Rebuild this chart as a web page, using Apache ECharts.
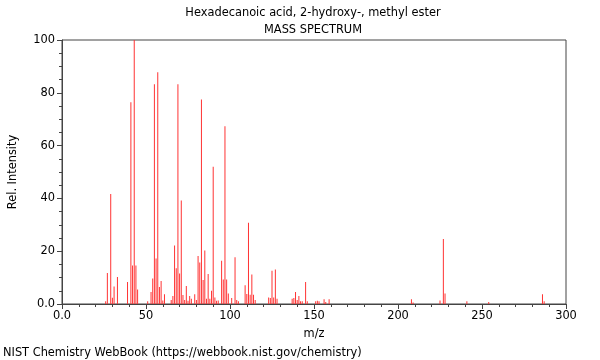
<!DOCTYPE html>
<html><head><meta charset="utf-8">
<script src="https://cdn.jsdelivr.net/npm/echarts@6/dist/echarts.min.js"></script>
<style>html,body{margin:0;padding:0;background:#fff}#c{width:600px;height:360px}</style>
</head><body><div id="c"></div>
<script>
const titleLines = ["Hexadecanoic acid, 2-hydroxy-, methyl ester", "MASS SPECTRUM"];
const footer = "NIST Chemistry WebBook (https://webbook.nist.gov/chemistry)";
const xName = "m/z";
const yName = "Rel. Intensity";
const mz = [26,27,29,30,31,33,39,41,42,43,44,45,51,53,54,55,56,57,58,59,60,61,
  65,66,67,68,69,70,71,72,73,74,75,76,77,79,80,81,82,83,84,85,86,87,88,89,90,91,92,93,
  95,96,97,98,99,101,103,104,105,109,110,111,112,113,114,115,123,124,125,126,127,128,
  137,138,139,140,141,142,143,145,146,151,152,153,156,157,159,208,209,225,227,228,241,254,286,287];
const intensity = [1,11.7,41.7,2.4,6.6,10.2,8.3,76.4,14.6,100,14.6,5.5,1,4.5,9.7,83.2,17.2,87.8,6.4,8.7,1.3,3.7,
  1.5,3,22.2,13.5,83.2,11.6,39.2,3.4,1.5,6.8,1.2,3,2,3.7,1.5,18.2,15.7,77.5,9.1,20.3,2,11.4,2,5,52,2.5,1.2,1.3,
  16.4,9.3,67.3,9.3,4,2.3,17.7,1.5,1,7.1,3.8,30.8,3.5,11.2,3.5,1.5,2.5,2.3,12.6,2.5,13.1,2,
  2,2.3,4.5,1.5,3,1,1,8.3,1,1,1.2,1,1.8,0.8,1.8,1.8,0.6,1.3,24.6,4,1,0.8,3.7,1];

const data = mz.map((m, i) => [m, intensity[i]]);
const fmt = v => v === 0 ? '0.0' : String(v);
const font = 'DejaVu Sans';
const fs = 11.4;
const chart = echarts.init(document.getElementById('c'), null, {renderer: 'canvas'});
chart.setOption({
  animation: false,
  backgroundColor: '#fff',
  textStyle: {fontFamily: font},
  title: [
    {text: titleLines[0], left: 313, top: 8, padding: 0, textAlign: 'center', textStyle: {fontSize: fs, fontWeight: 'normal', color: '#000', fontFamily: font}},
    {text: titleLines[1], left: 313, top: 25, padding: 0, textAlign: 'center', textStyle: {fontSize: fs, fontWeight: 'normal', color: '#000', fontFamily: font}},
    {text: footer, left: 3, top: 348, padding: 0, textStyle: {fontSize: fs, fontWeight: 'normal', color: '#000', fontFamily: font}}
  ],
  grid: {left: 62, right: 34, top: 40, bottom: 56, show: true, borderColor: '#444', borderWidth: 1, containLabel: false},
  xAxis: {
    type: 'value', min: 0, max: 300, interval: 50,
    name: xName, nameLocation: 'middle', nameGap: 25,
    nameTextStyle: {fontSize: fs, color: '#000', fontFamily: font},
    axisLine: {show: true, lineStyle: {color: '#444'}},
    axisTick: {show: true, inside: false, length: 5, lineStyle: {color: '#444'}},
    minorTick: {show: true, splitNumber: 5, length: 3, lineStyle: {color: '#444'}},
    axisLabel: {fontSize: fs, color: '#000', margin: 7, formatter: fmt, fontFamily: font},
    splitLine: {show: false}
  },
  yAxis: {
    type: 'value', min: 0, max: 100, interval: 20,
    name: yName, nameLocation: 'middle', nameGap: 43, nameRotate: 90,
    nameTextStyle: {fontSize: fs, color: '#000', fontFamily: font},
    axisLine: {show: true, lineStyle: {color: '#444'}},
    axisTick: {show: true, inside: false, length: 5, lineStyle: {color: '#444'}},
    minorTick: {show: true, splitNumber: 4, length: 3, lineStyle: {color: '#444'}},
    axisLabel: {fontSize: fs, color: '#000', margin: 7, formatter: fmt, fontFamily: font},
    splitLine: {show: false}
  },
  series: [{
    type: 'bar', data: data, barWidth: 1, barGap: '-100%',
    itemStyle: {color: '#ff3333'}, silent: true
  }]
});
</script></body></html>
